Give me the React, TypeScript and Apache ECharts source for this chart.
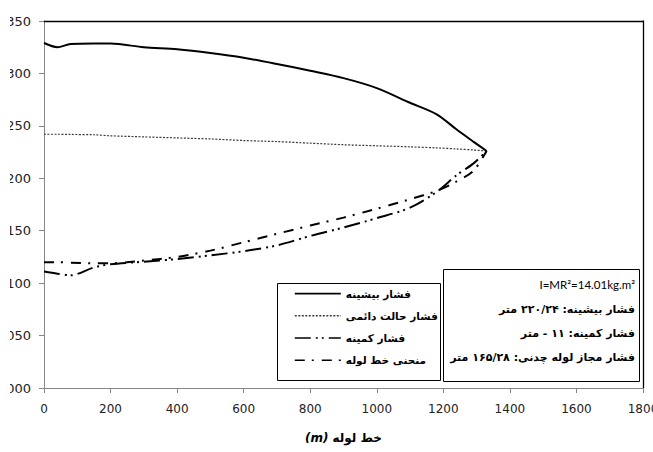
import { useEffect, useRef } from "react";
import * as echarts from "echarts";

// Distance along the pipeline (m)
const distance = [0, 40, 80, 150, 200, 300, 400, 500, 600, 700, 800, 900, 1000, 1100, 1180, 1240, 1290, 1330];

// Hydraulic heads (m) at each distance
const maxHead = [1329, 1325, 1328, 1328.5, 1328.5, 1325, 1323, 1319.5, 1315, 1309, 1302.5, 1295.5, 1286, 1272, 1261, 1246.5, 1235, 1226];
const steadyHead = [1242, 1242, 1241.8, 1241.5, 1240.5, 1239.5, 1238.5, 1237.5, 1236, 1235, 1233.5, 1232, 1231, 1230, 1229, 1228, 1227, 1226];
const minHead = [1111, 1109, 1107.5, 1115, 1118, 1120.5, 1123, 1126.5, 1130.5, 1136, 1145, 1153, 1162, 1172, 1187, 1203, 1214, 1226];
const pipeProfile = [1120, 1120, 1119.5, 1119, 1119, 1121.5, 1125, 1131, 1139, 1147, 1155, 1162.5, 1171, 1180, 1188, 1197, 1207, 1226];

const seriesNames = ["فشار بیشینه", "فشار حالت دائمی", "فشار کمینه", "منحنی خط لوله"];

const infoLines = [
  "I=MR²=14.01kg.m²",
  "فشار بیشینه: ۲۲۰/۲۴ متر",
  "فشار کمینه: ۱۱ - متر",
  "فشار مجاز لوله چدنی: ۱۶۵/۲۸ متر",
];

const xMin = 0;
const xMax = 1800;
const xStep = 200;
const yMin = 1000;
const yMax = 1350;
const yStep = 50;

const persianFont = "DejaVu Sans";

export default function App() {
  const ref = useRef<HTMLDivElement>(null);

  useEffect(() => {
    if (!ref.current) return;
    const chart = echarts.init(ref.current, undefined, { renderer: "svg" });

    const pairs = (vals: number[]) => distance.map((d, i) => [d, vals[i]]);
    const lineSeries = (name: string, vals: number[], lineStyle: any, z: number) => ({
      type: "line",
      name,
      data: pairs(vals),
      symbol: "none",
      smooth: 0.3,
      z,
      itemStyle: { color: lineStyle.color },
      lineStyle,
    });

    const infoRowY = [284, 309, 333, 357];

    chart.setOption({
      animation: false,
      backgroundColor: "#fff",
      grid: { left: 34, right: 10, top: 21, bottom: 64, containLabel: false, outerBoundsMode: "none" },
      xAxis: [
        {
          type: "value",
          min: xMin,
          max: xMax,
          interval: xStep,
          axisLine: { show: true, onZero: false, lineStyle: { color: "#868686", width: 1 } },
          axisTick: { show: true, length: 5, lineStyle: { color: "#868686" } },
          axisLabel: { color: "#222", fontFamily: "DejaVu Sans", fontSize: 12, margin: 15, formatter: (v: number) => String(v) },
          splitLine: { show: false },
          name: "{m|(m)}{t|خط لوله}",
          nameLocation: "middle",
          nameGap: 44,
          nameTextStyle: {
            color: "#000",
            fontFamily: persianFont,
            fontWeight: "bold",
            fontSize: 12,
            rich: {
              m: { fontFamily: persianFont, fontWeight: "bold", fontStyle: "italic", fontSize: 12, color: "#000", padding: [0, 4, 0, 0] },
              t: { fontFamily: persianFont, fontWeight: "bold", fontSize: 12, color: "#000" },
            },
          },
        },
        {
          type: "value",
          position: "top",
          min: xMin,
          max: xMax,
          axisLine: { show: true, onZero: false, lineStyle: { color: "#000", width: 1.3 } },
          axisTick: { show: false },
          axisLabel: { show: false },
          splitLine: { show: false },
        },
      ],
      yAxis: [
        {
          type: "value",
          min: yMin,
          max: yMax,
          interval: yStep,
          axisLine: { show: true, onZero: false, lineStyle: { color: "#868686", width: 1 } },
          axisTick: { show: true, length: 5, lineStyle: { color: "#868686" } },
          axisLabel: { color: "#222", fontFamily: "DejaVu Sans", fontSize: 13, margin: 13, formatter: (v: number) => String(v) },
          splitLine: { show: false },
        },
        {
          type: "value",
          position: "right",
          min: yMin,
          max: yMax,
          axisLine: { show: true, onZero: false, lineStyle: { color: "#000", width: 1.3 } },
          axisTick: { show: false },
          axisLabel: { show: false },
          splitLine: { show: false },
        },
      ],
      legend: {
        orient: "vertical",
        left: 284,
        top: 288,
        padding: 0,
        itemWidth: 46,
        itemHeight: 14,
        itemGap: 11,
        align: "left",
        selectedMode: false,
        data: seriesNames,
        itemStyle: { opacity: 0 },
        lineStyle: { width: 1.6 },
        textStyle: { fontFamily: persianFont, fontSize: 10.5, fontWeight: "bold", color: "#000" },
      },
      graphic: [
        {
          type: "rect",
          z: 0,
          shape: { x: 267.5, y: 283.5, width: 163, height: 97 },
          style: { fill: "#fff", stroke: "#000", lineWidth: 1 },
        },
        {
          type: "rect",
          z: 0,
          shape: { x: 433.5, y: 269.5, width: 196, height: 112 },
          style: { fill: "#fff", stroke: "#000", lineWidth: 1 },
        },
        ...infoLines.map((text, i) => ({
          type: "text",
          z: 5,
          x: 625,
          y: infoRowY[i],
          style: {
            text,
            fill: "#000",
            fontFamily: i === 0 ? "Lato" : persianFont,
            fontSize: i === 0 ? 11.5 : 11,
            fontWeight: i === 0 ? "normal" : "bold",
            align: "right",
            verticalAlign: "middle",
            textAlign: "right",
            textVerticalAlign: "middle",
          },
        })),
      ],
      series: [
        lineSeries(seriesNames[0], maxHead, { color: "#000", width: 2, type: "solid" }, 4),
        lineSeries(seriesNames[1], steadyHead, { color: "#3a3a3a", width: 1.2, type: [2, 1.5] }, 3),
        lineSeries(seriesNames[2], minHead, { color: "#000", width: 2, type: [16, 5, 2, 4, 2, 5] }, 3),
        lineSeries(seriesNames[3], pipeProfile, { color: "#000", width: 2, type: [10, 7, 2, 8] }, 3),
      ],
    });

    return () => chart.dispose();
  }, []);

  return (
    <div
      ref={ref}
      style={{ position: "absolute", left: 10, top: 0, width: 643, height: 452, overflow: "hidden", background: "#fff" }}
    />
  );
}
